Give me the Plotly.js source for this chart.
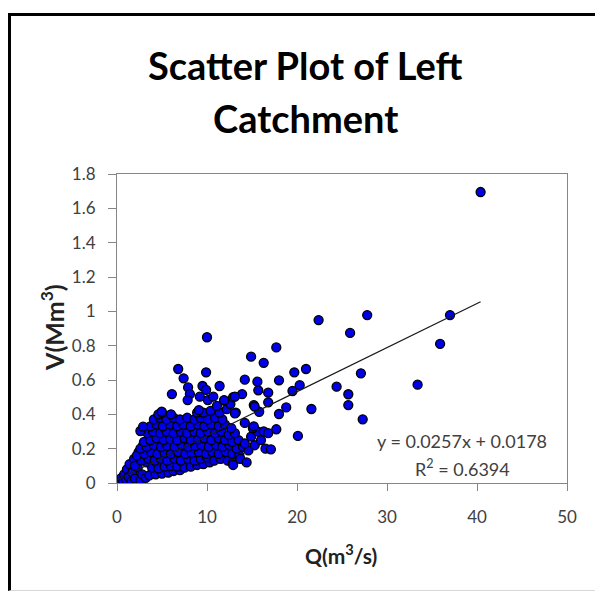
<!DOCTYPE html>
<html>
<head>
<meta charset="utf-8">
<script src="https://cdn.plot.ly/plotly-3.0.1.min.js"></script>
<style>
  html, body { margin: 0; padding: 0; background: #fff; }
  #chart { position: absolute; left: 0; top: 0; width: 595px; height: 591px; }
  #frame { position: absolute; left: 8px; top: 13px; width: 584px; height: 574px;
           border-left: 3px solid #000; border-top: 3px solid #000;
           border-right: 1px solid #e4e4e4; border-bottom: 1px solid #d8d8d8;
           pointer-events: none; }
</style>
</head>
<body>
<div id="chart"></div>
<div id="frame"></div>
<script>
// Q (m3/s) and V (Mm3)
const qX = [
  // dense cloud near origin
  0.1,0.25,0.4,0.5,0.7,0.8,1.0,1.1,1.3,1.4,1.6,1.7,1.9,2.0,2.3,2.4,2.6,2.8,2.9,3.2,3.3,
  3.6,4.3,5.0,5.7,3.9,4.6,6.3,7.0,
  5.3,6.0,6.7,7.5,8.2,8.9,9.6,10.3,
  2.0,2.7,3.5,4.2,4.9,5.6,6.4,7.1,7.9,8.6,9.3,10.0,10.8,11.5,12.3,12.9,
  2.2,3.0,3.8,4.5,5.3,6.0,6.8,7.6,8.3,9.1,9.9,10.6,11.3,12.1,12.8,13.6,
  2.6,3.3,4.1,4.9,5.6,6.4,7.2,7.9,8.7,9.4,10.2,11.0,11.7,12.5,13.3,14.0,
  3.0,3.7,4.4,5.2,5.9,6.7,7.5,8.2,9.0,9.7,10.5,11.3,12.0,12.8,13.5,
  3.4,4.0,4.8,5.5,6.3,7.1,7.8,8.6,9.3,10.1,10.9,11.6,12.4,13.1,
  3.7,4.4,5.1,5.9,6.7,7.4,8.2,9.0,9.7,10.5,11.3,12.0,12.7,
  4.1,4.8,5.5,6.3,7.0,7.8,8.6,9.3,10.1,10.9,11.7,
  4.6,5.0,6.0,8.9,9.6,10.4,11.4,12.2,13.2,12.6,11.9,12.9,
  // sparse right edge of the cloud
  13.7,14.4,12.9,14.6,14.2,14.9,15.3,15.6,16.0,16.5,17.1,15.1,16.3,14.2,15.2,16.8,17.7,13.1,
  // outliers
  40.4,37.0,35.9,33.4,27.8,25.9,22.4,21.0,27.1,24.4,25.7,25.7,20.3,21.6,20.1,27.3,
  10.0,17.7,14.9,16.3,9.9,19.7,14.2,15.6,18.0,11.4,15.7,13.9,13.1,16.8,19.5,16.8,15.2,18.8,15.8,18.0,
  6.8,7.4,6.1,7.9,8.1,7.85,9.5,9.9,9.2,10.1,10.7,11.9,11.1,9.1,4.97,2.6,2.9,15.3
];
const vY = [
  0.004,0.01,0.006,0.03,0.012,0.05,0.02,0.08,0.035,0.11,0.01,0.06,0.14,0.025,0.09,0.18,0.015,0.05,0.22,0.03,0.12,
  0.045,0.05,0.055,0.06,0.09,0.085,0.07,0.075,
  0.095,0.1,0.095,0.09,0.095,0.105,0.11,0.12,
  0.1,0.13,0.14,0.13,0.14,0.13,0.14,0.13,0.14,0.13,0.14,0.15,0.13,0.14,0.13,0.12,
  0.16,0.17,0.18,0.17,0.175,0.17,0.18,0.17,0.175,0.18,0.17,0.18,0.17,0.18,0.17,0.16,
  0.2,0.21,0.22,0.21,0.215,0.21,0.22,0.21,0.215,0.22,0.21,0.22,0.21,0.22,0.2,0.21,
  0.24,0.25,0.26,0.25,0.255,0.25,0.26,0.25,0.255,0.26,0.25,0.26,0.25,0.24,0.25,
  0.29,0.3,0.29,0.3,0.29,0.3,0.29,0.3,0.29,0.3,0.29,0.3,0.28,0.29,
  0.33,0.34,0.33,0.34,0.33,0.34,0.33,0.34,0.33,0.34,0.33,0.34,0.32,
  0.37,0.38,0.37,0.38,0.37,0.38,0.37,0.38,0.37,0.38,0.37,
  0.4,0.41,0.4,0.41,0.41,0.42,0.41,0.43,0.41,0.46,0.48,0.5,
  0.14,0.12,0.105,0.19,0.23,0.27,0.22,0.3,0.25,0.2,0.196,0.319,0.3,0.35,0.33,0.29,0.313,0.406,
  1.695,0.978,0.811,0.573,0.978,0.874,0.949,0.664,0.639,0.561,0.517,0.454,0.57,0.431,0.274,0.371,
  0.849,0.79,0.736,0.70,0.645,0.645,0.602,0.59,0.598,0.565,0.54,0.518,0.503,0.526,0.536,0.47,0.454,0.44,0.415,0.402,
  0.664,0.61,0.518,0.557,0.518,0.483,0.565,0.542,0.503,0.483,0.503,0.483,0.449,0.425,0.415,0.303,0.328,0.445
];
// linear trend line y = 0.0257x + 0.0178, end points
const trendX = [0, 40.4];
const trendY = [0.0178, 1.0561];

const xTicks = [0, 10, 20, 30, 40, 50];
const yTicks = [0, 0.2, 0.4, 0.6, 0.8, 1, 1.2, 1.4, 1.6, 1.8];

const titleLines = ['Scatter Plot of Left', 'Catchment'];
const xTitle = 'Q(m<sup>3</sup>/s)';
const yTitle = 'V(Mm<sup>3</sup>)';
const eqText = 'y = 0.0257x + 0.0178';
const r2Text = 'R<sup>2</sup> = 0.6394';

const FONT = 'Lato, "Open Sans", sans-serif';
const axisCol = '#868686';

const traces = [
  {
    x: qX, y: vY, type: 'scatter', mode: 'markers',
    marker: { size: 9, color: '#0000e8', line: { color: '#000', width: 1.3 } },
    hoverinfo: 'skip'
  },
  {
    x: trendX, y: trendY, type: 'scatter', mode: 'lines',
    line: { color: '#1a1a1a', width: 1.2 }, hoverinfo: 'skip'
  }
];

const baseAxis = {
  showgrid: false, zeroline: false, fixedrange: true
};

const layout = {
  width: 595, height: 591,
  margin: { l: 117, r: 28, t: 174, b: 108 },
  paper_bgcolor: '#fff', plot_bgcolor: '#fff',
  showlegend: false,
  font: { family: FONT, color: '#404040' },
  xaxis: Object.assign({}, baseAxis, {
    range: [0, 50], tickvals: xTicks, ticks: 'outside', ticklen: 7, tickcolor: axisCol,
    showline: true, linecolor: axisCol, linewidth: 1, mirror: true,
    tickfont: { size: 17, color: '#404040', family: FONT }, ticklabelstandoff: 12
  }),
  yaxis: Object.assign({}, baseAxis, {
    range: [0, 1.8], tickvals: yTicks, ticks: 'outside', ticklen: 8, tickcolor: axisCol,
    showline: true, linecolor: axisCol, linewidth: 1, mirror: true,
    tickfont: { size: 17, color: '#404040', family: FONT }, ticklabelstandoff: 9
  }),
  xaxis2: Object.assign({}, baseAxis, {
    overlaying: 'x', anchor: 'y', side: 'bottom', range: [0, 50], tickvals: xTicks,
    ticks: 'inside', ticklen: 7, tickcolor: axisCol, showticklabels: false, showline: false
  }),
  yaxis2: Object.assign({}, baseAxis, {
    overlaying: 'y', anchor: 'x', side: 'left', range: [0, 1.8], tickvals: yTicks,
    ticks: 'inside', ticklen: 8, tickcolor: axisCol, showticklabels: false, showline: false
  }),
  annotations: [
    { text: titleLines[0], xref: 'paper', yref: 'paper', x: 0.418, y: 1.353,
      xanchor: 'center', yanchor: 'middle', showarrow: false,
      font: { family: FONT, size: 38, color: '#000', weight: 'bold' } },
    { text: titleLines[1], xref: 'paper', yref: 'paper', x: 0.418, y: 1.181,
      xanchor: 'center', yanchor: 'middle', showarrow: false,
      font: { family: FONT, size: 38, color: '#000', weight: 'bold' } },
    { text: xTitle, xref: 'paper', yref: 'paper', x: 0.498, y: -0.230,
      xanchor: 'center', yanchor: 'middle', showarrow: false,
      font: { family: FONT, size: 21, color: '#222', weight: 'bold' } },
    { text: yTitle, xref: 'paper', yref: 'paper', x: -0.142, y: 0.502, textangle: -90,
      xanchor: 'center', yanchor: 'middle', showarrow: false,
      font: { family: FONT, size: 25, color: '#222', weight: 'bold' } },
    { text: eqText, xref: 'paper', yref: 'paper', x: 0.767, y: 0.136,
      xanchor: 'center', yanchor: 'middle', showarrow: false,
      font: { family: FONT, size: 18, color: '#404040' } },
    { text: r2Text, xref: 'paper', yref: 'paper', x: 0.767, y: 0.050,
      xanchor: 'center', yanchor: 'middle', showarrow: false,
      font: { family: FONT, size: 18, color: '#404040' } }
  ]
};

Plotly.newPlot('chart', traces, layout, { staticPlot: true, displayModeBar: false });
</script>
</body>
</html>
